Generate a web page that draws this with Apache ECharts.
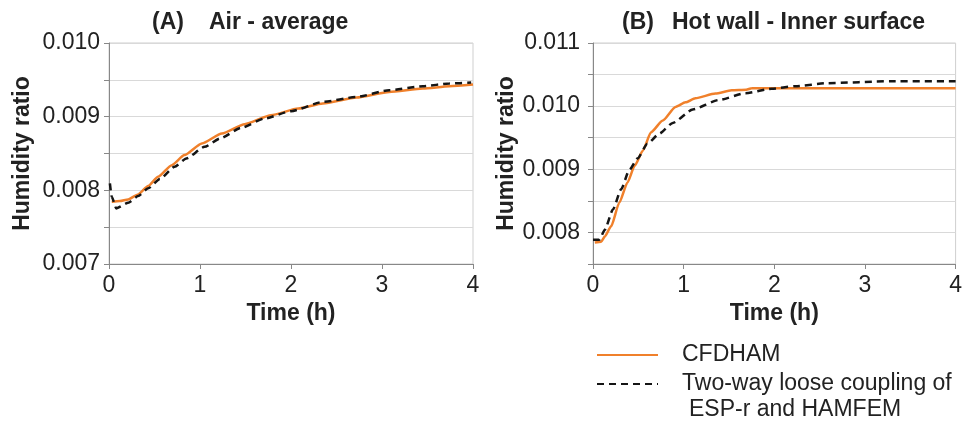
<!DOCTYPE html>
<html>
<head>
<meta charset="utf-8">
<script src="https://cdn.jsdelivr.net/npm/echarts@6/dist/echarts.min.js"></script>
<style>
  html, body { margin: 0; padding: 0; background: #fff; }
  #chart { width: 965px; height: 430px; }
</style>
</head>
<body>
<div id="chart"></div>
<script>
// (A) Air - average
var aCfdTime = [0.03, 0.12, 0.21, 0.32, 0.43, 0.54, 0.69, 0.83, 1.02, 1.24, 1.49, 1.78, 2.08, 2.35, 2.72, 3.08, 3.45, 3.74, 4.0];
var aCfdValue = [0.007845, 0.007855, 0.007877, 0.007945, 0.008058, 0.008184, 0.008342, 0.008478, 0.008636, 0.008772, 0.008898, 0.00902, 0.009111, 0.009179, 0.00926, 0.009336, 0.009382, 0.009413, 0.009436];
var aLooseTime = [0.01, 0.03, 0.08, 0.21, 0.32, 0.43, 0.56, 0.72, 0.85, 1.05, 1.22, 1.45, 1.71, 2.0, 2.35, 2.72, 3.08, 3.45, 3.74, 3.98];
var aLooseValue = [0.008094, 0.007913, 0.007755, 0.007831, 0.007922, 0.008027, 0.008153, 0.008319, 0.008433, 0.00859, 0.008704, 0.008848, 0.008975, 0.009074, 0.0092, 0.009268, 0.009359, 0.009413, 0.00945, 0.009463];

// (B) Hot wall - Inner surface
var bCfdTime = [0.02, 0.09, 0.13, 0.20, 0.29, 0.38, 0.46, 0.55, 0.64, 0.77, 0.91, 1.02, 1.13, 1.35, 1.53, 1.69, 1.75, 2.05, 2.77, 4.0];
var bCfdValue = [0.00784, 0.007853, 0.007936, 0.008096, 0.00847, 0.00879, 0.009056, 0.009295, 0.009587, 0.009773, 0.009987, 0.01006, 0.010125, 0.010199, 0.010251, 0.01026, 0.010283, 0.010285, 0.010285, 0.010285];
var bLooseTime = [0.0, 0.07, 0.13, 0.22, 0.31, 0.40, 0.49, 0.60, 0.73, 0.88, 1.10, 1.39, 1.68, 1.97, 2.23, 2.59, 3.28, 4.0];
var bLooseValue = [0.007884, 0.007884, 0.008041, 0.008363, 0.008682, 0.008987, 0.009171, 0.009403, 0.009563, 0.009734, 0.009947, 0.010098, 0.010204, 0.010275, 0.010316, 0.010364, 0.010396, 0.010396];

var xTicks = [0, 1, 2, 3, 4];
var cfdName = 'CFDHAM';
var looseName = 'Two-way loose coupling of';
var looseName2 = 'ESP-r and HAMFEM';

var FONT = 'Liberation Sans, Arial, sans-serif';
var ORANGE = '#F0802B';
var BLACK = '#151515';

function pairs(t, v) {
  return t.map(function (x, i) { return [x, v[i]]; });
}

// only whole thousandths get a label, the half steps are just grid/ticks
function yLabel(v) {
  var k = v * 1000;
  return Math.abs(k - Math.round(k)) < 1e-6 ? v.toFixed(3) : '';
}

function xAxis(idx) {
  return {
    type: 'value', gridIndex: idx,
    min: xTicks[0], max: xTicks[xTicks.length - 1], interval: 1,
    name: 'Time (h)', nameLocation: 'middle', nameGap: 36,
    nameTextStyle: { fontFamily: FONT, fontSize: 23, fontWeight: 'bold', color: '#222' },
    axisLine: { lineStyle: { color: '#888', width: 1 } },
    axisTick: { show: true, length: 5, lineStyle: { color: '#888' } },
    axisLabel: { fontFamily: FONT, fontSize: 23, color: '#222', margin: 10 },
    splitLine: { show: false }
  };
}

function yAxis(idx, min, max, margin) {
  return {
    type: 'value', gridIndex: idx,
    min: min, max: max, interval: 0.0005,
    name: 'Humidity ratio', nameLocation: 'middle', nameRotate: 90,
    nameGap: idx === 0 ? 75 : 72,
    nameTextStyle: { fontFamily: FONT, fontSize: 23, fontWeight: 'bold', color: '#222' },
    axisLine: { show: true, lineStyle: { color: '#888', width: 1 } },
    axisTick: { show: true, length: 5, lineStyle: { color: '#888' } },
    axisLabel: { fontFamily: FONT, fontSize: 23, color: '#222', margin: margin, formatter: yLabel },
    splitLine: { show: true, lineStyle: { color: '#d9d9d9', width: 1 } }
  };
}

function line(name, idx, data, color, dashed) {
  return {
    name: name, type: 'line', xAxisIndex: idx, yAxisIndex: idx,
    data: data, symbol: 'none', showSymbol: false,
    smooth: 0.2, smoothMonotone: 'x',
    lineStyle: { color: color, width: 2.5, type: dashed ? [7, 5] : 'solid' },
    itemStyle: { color: color },
    z: dashed ? 3 : 2
  };
}

var titleStyle = { fontFamily: FONT, fontSize: 23, fontWeight: 'bold', color: '#222' };

var option = {
  animation: false,
  backgroundColor: '#fff',
  title: [
    { text: '(A)', left: 152, top: 11, textStyle: titleStyle, padding: 0 },
    { text: 'Air - average', left: 209, top: 11, textStyle: titleStyle, padding: 0 },
    { text: '(B)', left: 622, top: 11, textStyle: titleStyle, padding: 0 },
    { text: 'Hot wall - Inner surface', left: 672, top: 11, textStyle: titleStyle, padding: 0 }
  ],
  grid: [
    { left: 109, top: 43, width: 364, height: 221, show: true, borderColor: '#cfcfcf', borderWidth: 1 },
    { left: 593, top: 43, width: 365, height: 221, show: true, borderColor: '#cfcfcf', borderWidth: 1 }
  ],
  xAxis: [xAxis(0), xAxis(1)],
  yAxis: [yAxis(0, 0.007, 0.010, 9), yAxis(1, 0.0075, 0.011, 13)],
  legend: {
    data: [cfdName, looseName],
    orient: 'vertical',
    left: 596, top: 342,
    itemWidth: 61, itemHeight: 14, itemGap: 3,
    padding: 0,
    itemStyle: { color: 'transparent', borderWidth: 0, opacity: 0 },
    textStyle: { fontFamily: FONT, fontSize: 23, color: '#222', lineHeight: 26, padding: [0, 0, 0, 19] }
  },
  graphic: [
    {
      type: 'text', left: 689, top: 398,
      style: { text: looseName2, font: '23px ' + FONT, fill: '#222' }
    }
  ],
  series: [
    line(cfdName, 0, pairs(aCfdTime, aCfdValue), ORANGE, false),
    line(looseName, 0, pairs(aLooseTime, aLooseValue), BLACK, true),
    line(cfdName, 1, pairs(bCfdTime, bCfdValue), ORANGE, false),
    line(looseName, 1, pairs(bLooseTime, bLooseValue), BLACK, true)
  ]
};

var chart = echarts.init(document.getElementById('chart'));
chart.setOption(option);
</script>
</body>
</html>
